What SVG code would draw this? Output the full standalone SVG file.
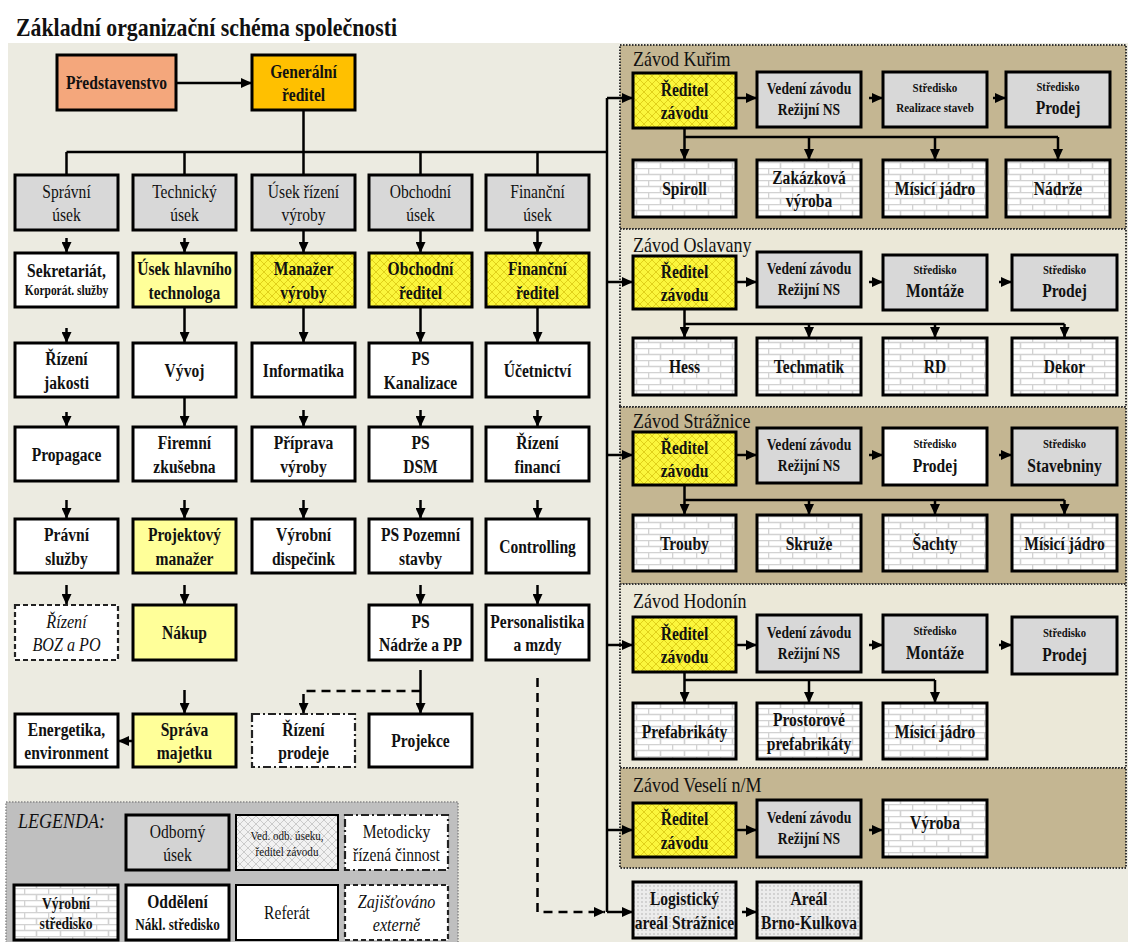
<svg xmlns="http://www.w3.org/2000/svg" width="1128" height="942" viewBox="0 0 1128 942">
<style>
text{font-family:"Liberation Serif","Times New Roman",serif;font-weight:bold;font-size:19px;text-anchor:middle;fill:#111}
.s{font-size:14px}.m{font-size:16px}.xs{font-size:13px}
.it{font-style:italic;font-weight:normal}
.lbl{font-weight:normal;font-size:20px;text-anchor:start}
.bx{stroke:#000;stroke-width:3}
.gr{fill:#d8d8d8}.wh{fill:#fff}.ly{fill:#ffff99}.yx{fill:url(#yx)}.br{fill:url(#brick)}.dt{fill:url(#dots)}
.dash{stroke:#222;stroke-width:2.2;stroke-dasharray:5 3}
.dd{stroke:#222;stroke-width:2.2;stroke-dasharray:8 3 2 3}
.ln{stroke:#000;stroke-width:2.5;fill:none}
.ar{marker-end:url(#ah)}
.dl{stroke-dasharray:9 6}
.pd{fill:#c4b692;stroke:#333;stroke-width:2;stroke-dasharray:1.5 1.5}
.pl{fill:#ebe8d8;stroke:#333;stroke-width:2;stroke-dasharray:1.5 1.5}
</style>
<defs>
<marker id="ah" markerUnits="userSpaceOnUse" markerWidth="11" markerHeight="10" refX="11" refY="5" orient="auto"><path d="M0,0L11,5L0,10z" fill="#000"/></marker>
<pattern id="yx" width="8" height="8" patternUnits="userSpaceOnUse"><rect width="8" height="8" fill="#fbf63c"/><path d="M0,0L8,8M8,0L0,8" stroke="#e0d01a" stroke-width="1"/></pattern>
<pattern id="gx" width="8" height="8" patternUnits="userSpaceOnUse"><rect width="8" height="8" fill="#f2f2f2"/><path d="M0,0L8,8M8,0L0,8" stroke="#cbcbcb" stroke-width="1"/></pattern>
<pattern id="brick" width="24" height="12" patternUnits="userSpaceOnUse"><rect width="24" height="12" fill="#fff"/><path d="M0,0.5H24M0,6.5H24M0.5,0.5V6.5M12.5,6.5V12.5" stroke="#d2d2d2" stroke-width="1.6" fill="none"/></pattern>
<pattern id="dots" width="4" height="4" patternUnits="userSpaceOnUse"><rect width="4" height="4" fill="#ececec"/><circle cx="2" cy="2" r="0.9" fill="#c6c6c6"/></pattern>
</defs>
<rect width="1128" height="942" fill="#fff"/>
<rect x="8" y="43" width="1120" height="899" fill="#ecebe1"/>
<text x="16" y="36" style="font-size:25px;text-anchor:start" textLength="381" lengthAdjust="spacingAndGlyphs">Základní organizační schéma společnosti</text>

<g id="panels">
<rect class="pd" x="620" y="45" width="506" height="184"/>
<rect class="pl" x="620" y="229" width="506" height="178"/>
<rect class="pd" x="620" y="407" width="506" height="177"/>
<rect class="pl" x="620" y="584" width="506" height="184"/>
<rect class="pd" x="620" y="768" width="506" height="100"/>
<text class="lbl" transform="translate(633,66) scale(.9,1)">Závod Kuřim</text>
<text class="lbl" transform="translate(633,252) scale(.9,1)">Závod Oslavany</text>
<text class="lbl" transform="translate(633,428) scale(.9,1)">Závod Strážnice</text>
<text class="lbl" transform="translate(633,608) scale(.9,1)">Závod Hodonín</text>
<text class="lbl" transform="translate(633,792) scale(.9,1)">Závod Veselí n/M</text>
</g>

<g id="legend">
<rect x="6" y="802" width="452" height="142" fill="#bfbfbf" stroke="#888" stroke-width="1.5" stroke-dasharray="1.5 1.5"/>
<text class="it" style="font-size:20px;text-anchor:start" transform="translate(18,828) scale(.9,1)">LEGENDA:</text>
<g id="lg-odborny"><rect class="bx" x="126" y="815" width="103" height="55" fill="#d3d3d3"/><text transform="translate(177.5,842.5) scale(.82,1)" style="font-weight:normal"><tspan x="0" y="-5">Odborný</tspan><tspan x="0" y="19">úsek</tspan></text></g>
<g id="lg-ved"><rect x="236" y="815" width="102" height="55" fill="url(#gx)" stroke="#000" stroke-width="2"/><text class="xs" style="font-weight:normal" transform="translate(287,842.5) scale(.85,1)"><tspan x="0" y="-3">Ved. odb. úseku,</tspan><tspan x="0" y="14">ředitel závodu</tspan></text></g>
<g id="lg-metod"><rect class="dd wh" x="345" y="815" width="103" height="55"/><text transform="translate(396.5,842.5) scale(.82,1)" style="font-weight:normal"><tspan x="0" y="-5">Metodicky</tspan><tspan x="0" y="19">řízená činnost</tspan></text></g>
<g id="lg-vyrobni"><rect class="bx br" x="14" y="885" width="104" height="55"/><text class="m" transform="translate(66,912.5) scale(.85,1)"><tspan x="0" y="-4">Výrobní</tspan><tspan x="0" y="17">středisko</tspan></text></g>
<g id="lg-oddeleni"><rect class="bx wh" x="126" y="885" width="103" height="55"/><text transform="translate(177.5,912.5) scale(.82,1)"><tspan x="0" y="-5">Oddělení</tspan><tspan class="m" x="0" y="18">Nákl. středisko</tspan></text></g>
<g id="lg-referat"><rect class="wh" x="236" y="885" width="102" height="55" stroke="#000" stroke-width="2"/><text transform="translate(287,912.5) scale(.82,1)" y="6.5" style="font-weight:normal">Referát</text></g>
<g id="lg-externe"><rect class="dash wh" x="345" y="885" width="103" height="55"/><text class="it" transform="translate(396.5,912.5) scale(.85,1)"><tspan x="0" y="-5">Zajišťováno</tspan><tspan x="0" y="19">externě</tspan></text></g>
</g>

<g id="connectors">
<path class="ln ar" d="M176,83H252"/>
<path class="ln" d="M303.5,110V175M66.5,152H607M66.5,152V175M184.5,152V175M420.5,152V175M537.5,152V175M607,98V912"/>
<path class="ln ar" d="M607,98H633"/><path class="ln ar" d="M607,282H633"/><path class="ln ar" d="M607,455H633"/><path class="ln ar" d="M607,645H633"/><path class="ln ar" d="M607,830H633"/><path class="ln ar" d="M607,912H633"/>
<path class="ln ar" d="M66.5,238V253"/><path class="ln ar" d="M66.5,328V343"/><path class="ln ar" d="M66.5,412V427"/><path class="ln ar" d="M66.5,500V519"/><path class="ln ar" d="M66.5,585V605"/>
<path class="ln ar" d="M184.5,238V253"/><path class="ln ar" d="M184.5,307V343"/><path class="ln ar" d="M184.5,397V427"/><path class="ln ar" d="M184.5,500V519"/><path class="ln ar" d="M184.5,585V605"/><path class="ln ar" d="M184.5,690V714"/>
<path class="ln ar" d="M303.5,229V253"/><path class="ln ar" d="M303.5,307V343"/><path class="ln ar" d="M303.5,410V427"/><path class="ln ar" d="M303.5,500V519"/>
<path class="ln ar" d="M420.5,229V253"/><path class="ln ar" d="M420.5,307V343"/><path class="ln ar" d="M420.5,410V427"/><path class="ln ar" d="M420.5,500V519"/><path class="ln ar" d="M420.5,585V605"/><path class="ln ar" d="M420.5,670V714"/>
<path class="ln ar" d="M537.5,229V253"/><path class="ln ar" d="M537.5,307V343"/><path class="ln ar" d="M537.5,410V427"/><path class="ln ar" d="M537.5,500V519"/><path class="ln ar" d="M537.5,585V605"/>
<path class="ln ar dl" d="M420.5,691H303.5V714"/>
<path class="ln ar dl" d="M537.5,678V912H605"/>
<path class="ln ar" d="M133,741H118"/>
<path class="ln ar" d="M736,98H757"/><path class="ln ar" d="M869,98H883"/><path class="ln ar" d="M993,98H1006"/>
<path class="ln" d="M684.5,137H1058"/>
<path class="ln ar" d="M684.5,128V160"/><path class="ln ar" d="M809,137V160"/><path class="ln ar" d="M935,137V160"/><path class="ln ar" d="M1058,137V160"/>
<path class="ln ar" d="M736,282H757"/><path class="ln ar" d="M869,282H883"/><path class="ln ar" d="M999,282H1012"/>
<path class="ln" d="M684.5,324H1064.5"/>
<path class="ln ar" d="M684.5,309V338"/><path class="ln ar" d="M809,324V338"/><path class="ln ar" d="M935,324V338"/><path class="ln ar" d="M1064.5,324V338"/>
<path class="ln ar" d="M736,455H757"/><path class="ln ar" d="M869,455H883"/><path class="ln ar" d="M999,455H1012"/>
<path class="ln" d="M684.5,500H1064.5"/>
<path class="ln ar" d="M684.5,485V515"/><path class="ln ar" d="M809,500V515"/><path class="ln ar" d="M935,500V515"/><path class="ln ar" d="M1064.5,500V515"/>
<path class="ln ar" d="M736,645H757"/><path class="ln ar" d="M869,645H883"/><path class="ln ar" d="M999,645H1012"/>
<path class="ln" d="M684.5,680H935"/>
<path class="ln ar" d="M684.5,672V703"/><path class="ln ar" d="M809,680V703"/><path class="ln ar" d="M935,680V703"/>
<path class="ln ar" d="M736,830H757"/><path class="ln ar" d="M869,830H883"/><path class="ln ar" d="M742,912H757"/>
</g>

<g id="n-predstavenstvo"><rect class="bx" x="57" y="55" width="119" height="55" fill="#f4a77c"/><text transform="translate(116.5,82.5) scale(.82,1)" y="6.5">Představenstvo</text></g>
<g id="n-generalni"><rect class="bx" x="252" y="55" width="103" height="55" fill="#ffc000"/><text transform="translate(303.5,82.5) scale(.82,1)"><tspan x="0" y="-5">Generální</tspan><tspan x="0" y="19">ředitel</tspan></text></g>

<g id="n-spravni"><rect class="bx gr" x="15" y="175" width="103" height="55"/><text transform="translate(66.5,202.5) scale(.82,1)" style="font-weight:normal"><tspan x="0" y="-5">Správní</tspan><tspan x="0" y="19">úsek</tspan></text></g>
<g id="n-technicky"><rect class="bx gr" x="133" y="175" width="103" height="55"/><text transform="translate(184.5,202.5) scale(.82,1)" style="font-weight:normal"><tspan x="0" y="-5">Technický</tspan><tspan x="0" y="19">úsek</tspan></text></g>
<g id="n-rizeni-vyroby"><rect class="bx gr" x="252" y="175" width="103" height="55"/><text transform="translate(303.5,202.5) scale(.82,1)" style="font-weight:normal"><tspan x="0" y="-5">Úsek řízení</tspan><tspan x="0" y="19">výroby</tspan></text></g>
<g id="n-obchodni"><rect class="bx gr" x="369" y="175" width="103" height="55"/><text transform="translate(420.5,202.5) scale(.82,1)" style="font-weight:normal"><tspan x="0" y="-5">Obchodní</tspan><tspan x="0" y="19">úsek</tspan></text></g>
<g id="n-financni"><rect class="bx gr" x="486" y="175" width="103" height="55"/><text transform="translate(537.5,202.5) scale(.82,1)" style="font-weight:normal"><tspan x="0" y="-5">Finanční</tspan><tspan x="0" y="19">úsek</tspan></text></g>

<g id="n-sekretariat"><rect class="bx wh" x="15" y="253" width="103" height="54"/><text transform="translate(66.5,280) scale(.82,1)"><tspan x="0" y="-3">Sekretariát,</tspan><tspan class="s" x="0" y="15">Korporát. služby</tspan></text></g>
<g id="n-technolog"><rect class="bx ly" x="133" y="253" width="103" height="54"/><text transform="translate(184.5,280) scale(.82,1)"><tspan x="0" y="-5">Úsek hlavního</tspan><tspan x="0" y="19">technologa</tspan></text></g>
<g id="n-manazer-vyroby"><rect class="bx yx" x="252" y="253" width="103" height="54"/><text transform="translate(303.5,280) scale(.82,1)"><tspan x="0" y="-5">Manažer</tspan><tspan x="0" y="19">výroby</tspan></text></g>
<g id="n-obchodni-reditel"><rect class="bx yx" x="369" y="253" width="103" height="54"/><text transform="translate(420.5,280) scale(.82,1)"><tspan x="0" y="-5">Obchodní</tspan><tspan x="0" y="19">ředitel</tspan></text></g>
<g id="n-financni-reditel"><rect class="bx yx" x="486" y="253" width="103" height="54"/><text transform="translate(537.5,280) scale(.82,1)"><tspan x="0" y="-5">Finanční</tspan><tspan x="0" y="19">ředitel</tspan></text></g>

<g id="n-jakost"><rect class="bx wh" x="15" y="343" width="103" height="54"/><text transform="translate(66.5,370) scale(.82,1)"><tspan x="0" y="-5">Řízení</tspan><tspan x="0" y="19">jakosti</tspan></text></g>
<g id="n-vyvoj"><rect class="bx wh" x="133" y="343" width="103" height="54"/><text transform="translate(184.5,370) scale(.82,1)" y="6.5">Vývoj</text></g>
<g id="n-informatika"><rect class="bx wh" x="252" y="343" width="103" height="54"/><text transform="translate(303.5,370) scale(.82,1)" y="6.5">Informatika</text></g>
<g id="n-kanalizace"><rect class="bx wh" x="369" y="343" width="103" height="54"/><text transform="translate(420.5,370) scale(.82,1)"><tspan x="0" y="-5">PS</tspan><tspan x="0" y="19">Kanalizace</tspan></text></g>
<g id="n-ucetnictvi"><rect class="bx wh" x="486" y="343" width="103" height="54"/><text transform="translate(537.5,370) scale(.82,1)" y="6.5">Účetnictví</text></g>

<g id="n-propagace"><rect class="bx wh" x="15" y="427" width="103" height="54"/><text transform="translate(66.5,454) scale(.82,1)" y="6.5">Propagace</text></g>
<g id="n-zkusebna"><rect class="bx wh" x="133" y="427" width="103" height="54"/><text transform="translate(184.5,454) scale(.82,1)"><tspan x="0" y="-5">Firemní</tspan><tspan x="0" y="19">zkušebna</tspan></text></g>
<g id="n-priprava"><rect class="bx wh" x="252" y="427" width="103" height="54"/><text transform="translate(303.5,454) scale(.82,1)"><tspan x="0" y="-5">Příprava</tspan><tspan x="0" y="19">výroby</tspan></text></g>
<g id="n-dsm"><rect class="bx wh" x="369" y="427" width="103" height="54"/><text transform="translate(420.5,454) scale(.82,1)"><tspan x="0" y="-5">PS</tspan><tspan x="0" y="19">DSM</tspan></text></g>
<g id="n-rizeni-financi"><rect class="bx wh" x="486" y="427" width="103" height="54"/><text transform="translate(537.5,454) scale(.82,1)"><tspan x="0" y="-5">Řízení</tspan><tspan x="0" y="19">financí</tspan></text></g>

<g id="n-pravni"><rect class="bx wh" x="15" y="519" width="103" height="54"/><text transform="translate(66.5,546) scale(.82,1)"><tspan x="0" y="-5">Právní</tspan><tspan x="0" y="19">služby</tspan></text></g>
<g id="n-projektovy"><rect class="bx ly" x="133" y="519" width="103" height="54"/><text transform="translate(184.5,546) scale(.82,1)"><tspan x="0" y="-5">Projektový</tspan><tspan x="0" y="19">manažer</tspan></text></g>
<g id="n-dispecink"><rect class="bx wh" x="252" y="519" width="103" height="54"/><text transform="translate(303.5,546) scale(.82,1)"><tspan x="0" y="-5">Výrobní</tspan><tspan x="0" y="19">dispečink</tspan></text></g>
<g id="n-pozemni"><rect class="bx wh" x="369" y="519" width="103" height="54"/><text transform="translate(420.5,546) scale(.82,1)"><tspan x="0" y="-5">PS Pozemní</tspan><tspan x="0" y="19">stavby</tspan></text></g>
<g id="n-controlling"><rect class="bx wh" x="486" y="519" width="103" height="54"/><text transform="translate(537.5,546) scale(.82,1)" y="6.5">Controlling</text></g>

<g id="n-boz"><rect class="dash wh" x="15" y="605" width="103" height="55"/><text class="it" transform="translate(66.5,632.5) scale(.85,1)"><tspan x="0" y="-5">Řízení</tspan><tspan x="0" y="19">BOZ a PO</tspan></text></g>
<g id="n-nakup"><rect class="bx ly" x="133" y="605" width="103" height="55"/><text transform="translate(184.5,632.5) scale(.82,1)" y="6.5">Nákup</text></g>
<g id="n-nadrze-pp"><rect class="bx wh" x="369" y="605" width="103" height="55"/><text transform="translate(420.5,632.5) scale(.82,1)"><tspan x="0" y="-5">PS</tspan><tspan x="0" y="19">Nádrže a PP</tspan></text></g>
<g id="n-personalistika"><rect class="bx wh" x="486" y="605" width="103" height="55"/><text transform="translate(537.5,632.5) scale(.82,1)"><tspan x="0" y="-5">Personalistika</tspan><tspan x="0" y="19">a mzdy</tspan></text></g>

<g id="n-energetika"><rect class="bx wh" x="15" y="714" width="103" height="53"/><text transform="translate(66.5,740.5) scale(.82,1)"><tspan x="0" y="-5">Energetika,</tspan><tspan x="0" y="19">environment</tspan></text></g>
<g id="n-sprava"><rect class="bx ly" x="133" y="714" width="103" height="53"/><text transform="translate(184.5,740.5) scale(.82,1)"><tspan x="0" y="-5">Správa</tspan><tspan x="0" y="19">majetku</tspan></text></g>
<g id="n-rizeni-prodeje"><rect class="dd wh" x="252" y="714" width="103" height="53"/><text transform="translate(303.5,740.5) scale(.82,1)"><tspan x="0" y="-5">Řízení</tspan><tspan x="0" y="19">prodeje</tspan></text></g>
<g id="n-projekce"><rect class="bx wh" x="369" y="714" width="103" height="53"/><text transform="translate(420.5,740.5) scale(.82,1)" y="6.5">Projekce</text></g>

<g id="k-reditel"><rect class="bx yx" x="633" y="73" width="103" height="55"/><text transform="translate(684.5,100.5) scale(.82,1)"><tspan x="0" y="-5">Ředitel</tspan><tspan x="0" y="19">závodu</tspan></text></g>
<g id="k-vedeni"><rect class="bx gr" x="757" y="72" width="104" height="55"/><text class="m" transform="translate(809,99.5) scale(.85,1)"><tspan x="0" y="-6">Vedení závodu</tspan><tspan x="0" y="16">Režijní NS</tspan></text></g>
<g id="k-realizace"><rect class="bx gr" x="883" y="72" width="104" height="55"/><text class="xs" transform="translate(935,99.5) scale(.85,1)"><tspan x="0" y="-8">Středisko</tspan><tspan x="0" y="13">Realizace staveb</tspan></text></g>
<g id="k-prodej"><rect class="bx gr" x="1006" y="72" width="104" height="55"/><text transform="translate(1058,99.5) scale(.82,1)"><tspan class="xs" x="0" y="-9">Středisko</tspan><tspan x="0" y="14">Prodej</tspan></text></g>
<g id="k-spiroll"><rect class="bx br" x="633" y="160" width="103" height="57"/><text transform="translate(684.5,188.5) scale(.82,1)" y="6.5">Spiroll</text></g>
<g id="k-zakazkova"><rect class="bx br" x="757" y="160" width="104" height="57"/><text transform="translate(809,188.5) scale(.82,1)"><tspan x="0" y="-5">Zakázková</tspan><tspan x="0" y="19">výroba</tspan></text></g>
<g id="k-jadro"><rect class="bx br" x="883" y="160" width="104" height="57"/><text transform="translate(935,188.5) scale(.82,1)" y="6.5">Mísicí jádro</text></g>
<g id="k-nadrze"><rect class="bx br" x="1006" y="160" width="104" height="57"/><text transform="translate(1058,188.5) scale(.82,1)" y="6.5">Nádrže</text></g>

<g id="o-reditel"><rect class="bx yx" x="633" y="256" width="103" height="53"/><text transform="translate(684.5,282.5) scale(.82,1)"><tspan x="0" y="-5">Ředitel</tspan><tspan x="0" y="19">závodu</tspan></text></g>
<g id="o-vedeni"><rect class="bx gr" x="757" y="252" width="104" height="55"/><text class="m" transform="translate(809,279.5) scale(.85,1)"><tspan x="0" y="-6">Vedení závodu</tspan><tspan x="0" y="16">Režijní NS</tspan></text></g>
<g id="o-montaze"><rect class="bx gr" x="883" y="255" width="104" height="55"/><text transform="translate(935,282.5) scale(.82,1)"><tspan class="xs" x="0" y="-9">Středisko</tspan><tspan x="0" y="14">Montáže</tspan></text></g>
<g id="o-prodej"><rect class="bx gr" x="1012" y="255" width="105" height="55"/><text transform="translate(1064.5,282.5) scale(.82,1)"><tspan class="xs" x="0" y="-9">Středisko</tspan><tspan x="0" y="14">Prodej</tspan></text></g>
<g id="o-hess"><rect class="bx br" x="633" y="338" width="103" height="57"/><text transform="translate(684.5,366.5) scale(.82,1)" y="6.5">Hess</text></g>
<g id="o-techmatik"><rect class="bx br" x="757" y="338" width="104" height="57"/><text transform="translate(809,366.5) scale(.82,1)" y="6.5">Techmatik</text></g>
<g id="o-rd"><rect class="bx br" x="883" y="338" width="104" height="57"/><text transform="translate(935,366.5) scale(.82,1)" y="6.5">RD</text></g>
<g id="o-dekor"><rect class="bx br" x="1012" y="338" width="105" height="57"/><text transform="translate(1064.5,366.5) scale(.82,1)" y="6.5">Dekor</text></g>

<g id="s-reditel"><rect class="bx yx" x="633" y="432" width="103" height="53"/><text transform="translate(684.5,458.5) scale(.82,1)"><tspan x="0" y="-5">Ředitel</tspan><tspan x="0" y="19">závodu</tspan></text></g>
<g id="s-vedeni"><rect class="bx gr" x="757" y="428" width="104" height="55"/><text class="m" transform="translate(809,455.5) scale(.85,1)"><tspan x="0" y="-6">Vedení závodu</tspan><tspan x="0" y="16">Režijní NS</tspan></text></g>
<g id="s-prodej"><rect class="bx wh" x="883" y="428" width="104" height="57"/><text transform="translate(935,456.5) scale(.82,1)"><tspan class="xs" x="0" y="-9">Středisko</tspan><tspan x="0" y="15">Prodej</tspan></text></g>
<g id="s-stavebniny"><rect class="bx gr" x="1012" y="428" width="105" height="57"/><text transform="translate(1064.5,456.5) scale(.82,1)"><tspan class="xs" x="0" y="-9">Středisko</tspan><tspan x="0" y="15">Stavebniny</tspan></text></g>
<g id="s-trouby"><rect class="bx br" x="633" y="515" width="103" height="56"/><text transform="translate(684.5,543) scale(.82,1)" y="6.5">Trouby</text></g>
<g id="s-skruze"><rect class="bx br" x="757" y="515" width="104" height="56"/><text transform="translate(809,543) scale(.82,1)" y="6.5">Skruže</text></g>
<g id="s-sachty"><rect class="bx br" x="883" y="515" width="104" height="56"/><text transform="translate(935,543) scale(.82,1)" y="6.5">Šachty</text></g>
<g id="s-jadro"><rect class="bx br" x="1012" y="515" width="105" height="56"/><text transform="translate(1064.5,543) scale(.82,1)" y="6.5">Mísicí jádro</text></g>

<g id="h-reditel"><rect class="bx yx" x="633" y="617" width="103" height="55"/><text transform="translate(684.5,644.5) scale(.82,1)"><tspan x="0" y="-5">Ředitel</tspan><tspan x="0" y="19">závodu</tspan></text></g>
<g id="h-vedeni"><rect class="bx gr" x="757" y="615" width="104" height="57"/><text class="m" transform="translate(809,643.5) scale(.85,1)"><tspan x="0" y="-6">Vedení závodu</tspan><tspan x="0" y="16">Režijní NS</tspan></text></g>
<g id="h-montaze"><rect class="bx gr" x="883" y="615" width="104" height="57"/><text transform="translate(935,643.5) scale(.82,1)"><tspan class="xs" x="0" y="-9">Středisko</tspan><tspan x="0" y="15">Montáže</tspan></text></g>
<g id="h-prodej"><rect class="bx gr" x="1012" y="617" width="105" height="57"/><text transform="translate(1064.5,645.5) scale(.82,1)"><tspan class="xs" x="0" y="-9">Středisko</tspan><tspan x="0" y="15">Prodej</tspan></text></g>
<g id="h-prefabrikaty"><rect class="bx br" x="633" y="703" width="103" height="56"/><text transform="translate(684.5,731) scale(.82,1)" y="6.5">Prefabrikáty</text></g>
<g id="h-prostorove"><rect class="bx br" x="757" y="703" width="104" height="56"/><text transform="translate(809,731) scale(.82,1)"><tspan x="0" y="-5">Prostorové</tspan><tspan x="0" y="19">prefabrikáty</tspan></text></g>
<g id="h-jadro"><rect class="bx br" x="883" y="703" width="104" height="56"/><text transform="translate(935,731) scale(.82,1)" y="6.5">Mísicí jádro</text></g>

<g id="v-reditel"><rect class="bx yx" x="633" y="803" width="103" height="54"/><text transform="translate(684.5,830) scale(.82,1)"><tspan x="0" y="-5">Ředitel</tspan><tspan x="0" y="19">závodu</tspan></text></g>
<g id="v-vedeni"><rect class="bx gr" x="757" y="800" width="104" height="57"/><text class="m" transform="translate(809,828.5) scale(.85,1)"><tspan x="0" y="-6">Vedení závodu</tspan><tspan x="0" y="16">Režijní NS</tspan></text></g>
<g id="v-vyroba"><rect class="bx br" x="883" y="800" width="104" height="57"/><text transform="translate(935,822) scale(.82,1)" y="6.5">Výroba</text></g>

<g id="n-logisticky"><rect class="bx dt" x="633" y="882" width="103" height="56"/><text transform="translate(684.5,910) scale(.82,1)"><tspan x="0" y="-5">Logistický</tspan><tspan x="0" y="19">areál Strážnice</tspan></text></g>
<g id="n-kulkova"><rect class="bx dt" x="757" y="882" width="104" height="56"/><text transform="translate(809,910) scale(.82,1)"><tspan x="0" y="-5">Areál</tspan><tspan x="0" y="19">Brno-Kulkova</tspan></text></g>
</svg>
